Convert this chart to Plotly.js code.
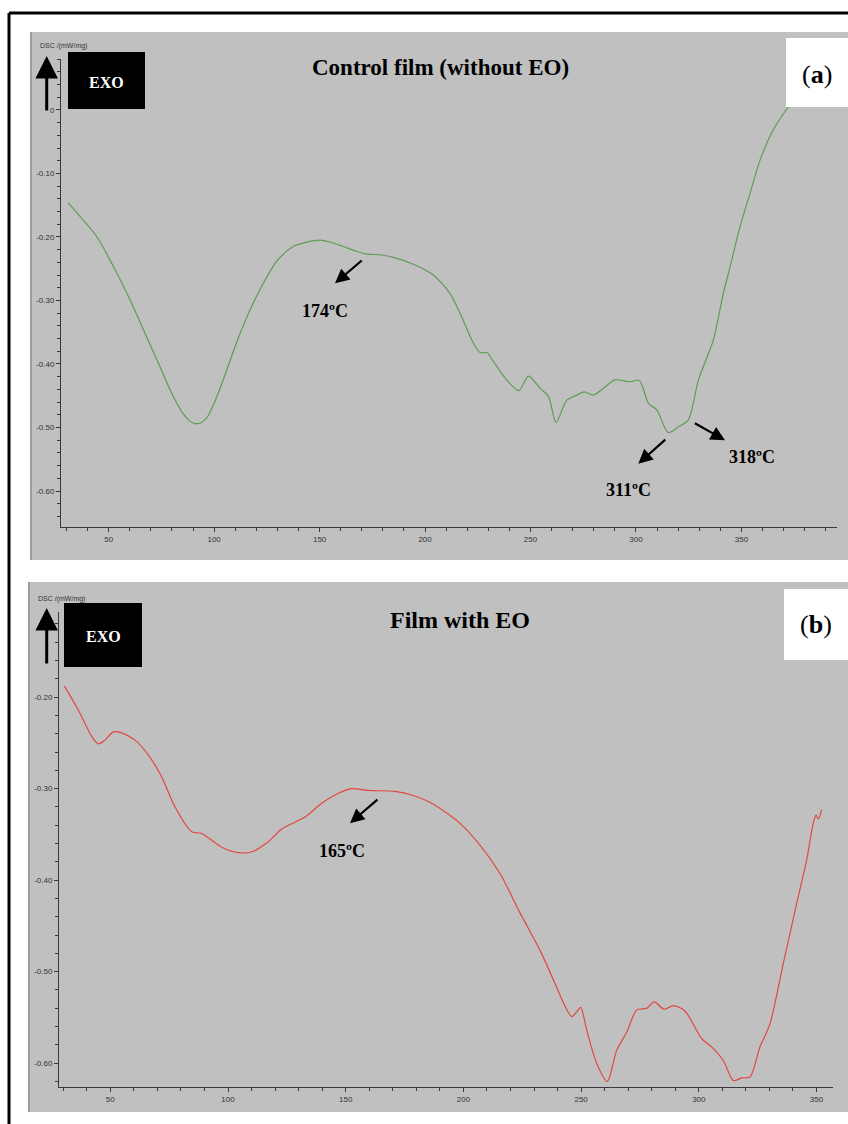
<!DOCTYPE html>
<html>
<head>
<meta charset="utf-8">
<script src="https://cdn.plot.ly/plotly-3.0.1.min.js"></script>
<style>
  html, body { margin: 0; padding: 0; background: #ffffff; }
  #chart { width: 848px; height: 1124px; }
</style>
</head>
<body>
<div id="chart"></div>
<script>
// DSC thermograms: control film and film with essential oil
const controlTemp = [30.8, 37, 44.5, 52, 60, 67, 74.3, 80, 85, 88.5, 91, 93.5, 96.5, 100, 104.3, 110, 115, 121.7, 129.7, 137.5, 144, 150.2, 156, 161.2, 167, 172.3, 178.6, 186, 192.9, 199, 203.9, 208, 212, 216.6, 222.9, 226.1, 229.3, 232.4, 238.7, 244.5, 249, 254.5, 258.5, 262.1, 267.2, 271.9, 275.5, 279.8, 285, 290.1, 297.2, 301.6, 305.9, 309.8, 315.3, 320.1, 324.8, 329.6, 333, 336.7, 341.4, 344.6, 349.3, 354.1, 358.8, 365.1, 372.2, 374];
const controlDSC = [-0.146, -0.170, -0.200, -0.245, -0.298, -0.350, -0.404, -0.447, -0.477, -0.490, -0.494, -0.493, -0.485, -0.462, -0.425, -0.372, -0.330, -0.283, -0.238, -0.215, -0.208, -0.205, -0.209, -0.215, -0.222, -0.227, -0.228, -0.233, -0.241, -0.250, -0.260, -0.273, -0.290, -0.320, -0.367, -0.382, -0.382, -0.396, -0.425, -0.442, -0.419, -0.438, -0.451, -0.492, -0.457, -0.449, -0.444, -0.449, -0.437, -0.425, -0.428, -0.426, -0.462, -0.472, -0.508, -0.499, -0.488, -0.425, -0.395, -0.362, -0.289, -0.247, -0.184, -0.131, -0.079, -0.031, 0.005, 0.013];

const eoTemp = [30.5, 36.4, 42.1, 44.9, 47.7, 51.3, 54.8, 60.5, 66.1, 71.8, 77.5, 84.6, 88.8, 97.3, 104.4, 110.1, 117.1, 122.8, 132.7, 139.8, 146.9, 152.5, 159.6, 170.9, 179.4, 186.5, 193.6, 198.6, 207.1, 215.6, 224.1, 232.6, 239.6, 243.2, 246, 248.1, 249.8, 252.4, 256.6, 261.1, 265.1, 269.4, 273.6, 277.9, 281.1, 285.2, 289.2, 294.1, 301.2, 306.2, 310.4, 314.7, 318.2, 321.7, 326, 330.2, 335.9, 341.6, 345.8, 348.6, 349.8, 350.8, 352.2];
const eoDSC = [-0.188, -0.214, -0.243, -0.251, -0.247, -0.238, -0.239, -0.247, -0.263, -0.287, -0.320, -0.347, -0.349, -0.364, -0.370, -0.369, -0.358, -0.344, -0.331, -0.316, -0.305, -0.300, -0.302, -0.303, -0.308, -0.316, -0.328, -0.338, -0.362, -0.393, -0.436, -0.477, -0.517, -0.538, -0.549, -0.544, -0.539, -0.564, -0.600, -0.620, -0.586, -0.566, -0.542, -0.540, -0.533, -0.541, -0.537, -0.543, -0.573, -0.584, -0.597, -0.619, -0.616, -0.615, -0.582, -0.557, -0.491, -0.425, -0.378, -0.338, -0.329, -0.333, -0.323];

const xTickVals = [50, 100, 150, 200, 250, 300, 350];
const xTickText = ['50', '100', '150', '200', '250', '300', '350'];
const yTickValsA = [0, -0.1, -0.2, -0.3, -0.4, -0.5, -0.6];
const yTickTextA = ['0', '-0.10', '-0.20', '-0.30', '-0.40', '-0.50', '-0.60'];
const yTickValsB = [-0.2, -0.3, -0.4, -0.5, -0.6];
const yTickTextB = ['-0.20', '-0.30', '-0.40', '-0.50', '-0.60'];

const panelTitles = ['Control film (without EO)', 'Film with EO'];
const panelTags = ['a', 'b'];
const peakLabelsA = ['174ºC', '311ºC', '318ºC'];
const peakLabelsB = ['165ºC'];

// page geometry helpers (pixels -> paper fraction)
const W = 848, H = 1124;
const fx = p => p / W;
const fy = p => 1 - p / H;

const serif = '"Liberation Serif", "Times New Roman", serif';
const sans = '"Liberation Sans", Arial, sans-serif';
const axisColor = '#3a3a3a';

const traces = [
  { x: controlTemp, y: controlDSC, xaxis: 'x', yaxis: 'y', mode: 'lines',
    line: { color: '#5f9c55', width: 1.2, shape: 'spline', smoothing: 0.8 }, hoverinfo: 'skip' },
  { x: eoTemp, y: eoDSC, xaxis: 'x2', yaxis: 'y2', mode: 'lines',
    line: { color: '#e2483f', width: 1.2, shape: 'spline', smoothing: 0.8 }, hoverinfo: 'skip' }
];

function xAxis(domain, range, anchor) {
  return {
    domain: domain, range: range, anchor: anchor,
    showline: true, linecolor: axisColor, linewidth: 1, mirror: false,
    showgrid: false, zeroline: false,
    tickmode: 'array', tickvals: xTickVals, ticktext: xTickText,
    ticks: 'outside', ticklen: 4, tickcolor: axisColor,
    minor: { dtick: 10, ticks: 'outside', ticklen: 3, tickcolor: axisColor, showgrid: false },
    tickfont: { family: sans, size: 8, color: '#333333' }
  };
}
function yAxis(domain, range, anchor, vals, text) {
  return {
    domain: domain, range: range, anchor: anchor,
    showline: true, linecolor: axisColor, linewidth: 1,
    showgrid: false, zeroline: false,
    tickmode: 'array', tickvals: vals, ticktext: text,
    ticks: 'outside', ticklen: 4, tickcolor: axisColor,
    minor: { dtick: 0.02, ticks: 'outside', ticklen: 3, tickcolor: axisColor, showgrid: false },
    tickfont: { family: sans, size: 8, color: '#333333' }
  };
}

const shapes = [
  // panel backgrounds
  { type: 'rect', xref: 'paper', yref: 'paper', x0: fx(31), x1: fx(848), y0: fy(560), y1: fy(32),
    fillcolor: '#c0c0c0', line: { width: 0 }, layer: 'below' },
  { type: 'rect', xref: 'paper', yref: 'paper', x0: fx(29), x1: fx(848), y0: fy(1112), y1: fy(582),
    fillcolor: '#c0c0c0', line: { width: 0 }, layer: 'below' },
  { type: 'line', xref: 'paper', yref: 'paper', x0: fx(31), x1: fx(31), y0: fy(560), y1: fy(32),
    line: { color: '#9c9c9c', width: 2 }, layer: 'below' },
  { type: 'line', xref: 'paper', yref: 'paper', x0: fx(29), x1: fx(29), y0: fy(1112), y1: fy(582),
    line: { color: '#9c9c9c', width: 2 }, layer: 'below' },
  // outer frame
  { type: 'line', xref: 'paper', yref: 'paper', x0: fx(9), x1: fx(848), y0: fy(13), y1: fy(13),
    line: { color: '#000000', width: 3 } },
  { type: 'line', xref: 'paper', yref: 'paper', x0: fx(9), x1: fx(9), y0: fy(1124), y1: fy(13),
    line: { color: '#000000', width: 3 } },
  // EXO boxes
  { type: 'rect', xref: 'paper', yref: 'paper', x0: fx(68), x1: fx(145), y0: fy(109), y1: fy(52),
    fillcolor: '#000000', line: { width: 0 } },
  { type: 'rect', xref: 'paper', yref: 'paper', x0: fx(64), x1: fx(142), y0: fy(667), y1: fy(603),
    fillcolor: '#000000', line: { width: 0 } },
  // panel tag boxes
  { type: 'rect', xref: 'paper', yref: 'paper', x0: fx(786), x1: fx(848), y0: fy(107), y1: fy(38),
    fillcolor: '#ffffff', line: { width: 0 } },
  { type: 'rect', xref: 'paper', yref: 'paper', x0: fx(784), x1: fx(848), y0: fy(660), y1: fy(589),
    fillcolor: '#ffffff', line: { width: 0 } }
];

const boldSerif = (size) => ({ family: serif, size: size, color: '#000000' });

const annotations = [
  // panel titles
  { xref: 'paper', yref: 'paper', x: fx(440), y: fy(67), text: '<b>' + panelTitles[0] + '</b>',
    showarrow: false, font: boldSerif(23), xanchor: 'center', yanchor: 'middle' },
  { xref: 'paper', yref: 'paper', x: fx(460), y: fy(620), text: '<b>' + panelTitles[1] + '</b>',
    showarrow: false, font: boldSerif(24), xanchor: 'center', yanchor: 'middle' },
  // panel tags
  { xref: 'paper', yref: 'paper', x: fx(817), y: fy(75), text: '(<b>' + panelTags[0] + '</b>)',
    showarrow: false, font: boldSerif(26), xanchor: 'center', yanchor: 'middle' },
  { xref: 'paper', yref: 'paper', x: fx(816), y: fy(624), text: '(<b>' + panelTags[1] + '</b>)',
    showarrow: false, font: boldSerif(26), xanchor: 'center', yanchor: 'middle' },
  // EXO labels
  { xref: 'paper', yref: 'paper', x: fx(106), y: fy(83), text: '<b>EXO</b>',
    showarrow: false, font: { family: serif, size: 16, color: '#ffffff' }, xanchor: 'center', yanchor: 'middle' },
  { xref: 'paper', yref: 'paper', x: fx(103), y: fy(636), text: '<b>EXO</b>',
    showarrow: false, font: { family: serif, size: 16, color: '#ffffff' }, xanchor: 'center', yanchor: 'middle' },
  // EXO direction arrows
  { xref: 'paper', yref: 'paper', x: fx(46.7), y: fy(56), ax: 0, ay: 56, text: '',
    showarrow: true, arrowhead: 2, arrowsize: 1.5, arrowwidth: 3, arrowcolor: '#000000' },
  { xref: 'paper', yref: 'paper', x: fx(46.7), y: fy(608), ax: 0, ay: 57, text: '',
    showarrow: true, arrowhead: 2, arrowsize: 1.5, arrowwidth: 3, arrowcolor: '#000000' },
  // y axis names
  { xref: 'paper', yref: 'paper', x: fx(38), y: fy(46), text: 'DSC /(mW/mg)', showarrow: false,
    font: { family: sans, size: 7, color: '#333333' }, xanchor: 'left', yanchor: 'middle' },
  { xref: 'paper', yref: 'paper', x: fx(36), y: fy(599), text: 'DSC /(mW/mg)', showarrow: false,
    font: { family: sans, size: 7, color: '#333333' }, xanchor: 'left', yanchor: 'middle' },
  // peak markers, panel a
  { xref: 'x', yref: 'y', axref: 'x', ayref: 'y', x: 157.3, y: -0.273, ax: 170.7, ay: -0.235, text: '',
    showarrow: true, arrowhead: 2, arrowsize: 1.3, arrowwidth: 2.2, arrowcolor: '#000000' },
  { xref: 'x', yref: 'y', x: 152.6, y: -0.3165, text: '<b>' + peakLabelsA[0] + '</b>', showarrow: false,
    font: boldSerif(18) },
  { xref: 'x', yref: 'y', axref: 'x', ayref: 'y', x: 301.1, y: -0.557, ax: 314.6, ay: -0.517, text: '',
    showarrow: true, arrowhead: 2, arrowsize: 1.3, arrowwidth: 2.2, arrowcolor: '#000000' },
  { xref: 'x', yref: 'y', x: 296.4, y: -0.598, text: '<b>' + peakLabelsA[1] + '</b>', showarrow: false,
    font: boldSerif(18) },
  { xref: 'x', yref: 'y', axref: 'x', ayref: 'y', x: 342.2, y: -0.520, ax: 327.2, ay: -0.492, text: '',
    showarrow: true, arrowhead: 2, arrowsize: 1.3, arrowwidth: 2.2, arrowcolor: '#000000' },
  { xref: 'x', yref: 'y', x: 354.9, y: -0.547, text: '<b>' + peakLabelsA[2] + '</b>', showarrow: false,
    font: boldSerif(18) },
  // peak marker, panel b
  { xref: 'x2', yref: 'y2', axref: 'x2', ayref: 'y2', x: 151.8, y: -0.3377, ax: 164.1, ay: -0.3107, text: '',
    showarrow: true, arrowhead: 2, arrowsize: 1.3, arrowwidth: 2.2, arrowcolor: '#000000' },
  { xref: 'x2', yref: 'y2', x: 148.3, y: -0.368, text: '<b>' + peakLabelsB[0] + '</b>', showarrow: false,
    font: boldSerif(18) }
];

const layout = {
  width: W, height: H,
  margin: { l: 0, r: 0, t: 0, b: 0, pad: 0 },
  paper_bgcolor: '#ffffff',
  plot_bgcolor: 'rgba(0,0,0,0)',
  showlegend: false,
  xaxis: xAxis([fx(61), fx(837)], [27.4, 395.3], 'y'),
  yaxis: yAxis([fy(527), fy(59)], [-0.6567, 0.0803], 'x', yTickValsA, yTickTextA),
  xaxis2: xAxis([fx(59), fx(833)], [28.2, 357.0], 'y2'),
  yaxis2: yAxis([fy(1087), fy(612)], [-0.626, -0.107], 'x2', yTickValsB, yTickTextB),
  shapes: shapes,
  annotations: annotations
};

Plotly.newPlot('chart', traces, layout, { staticPlot: true, displayModeBar: false });
</script>
</body>
</html>
